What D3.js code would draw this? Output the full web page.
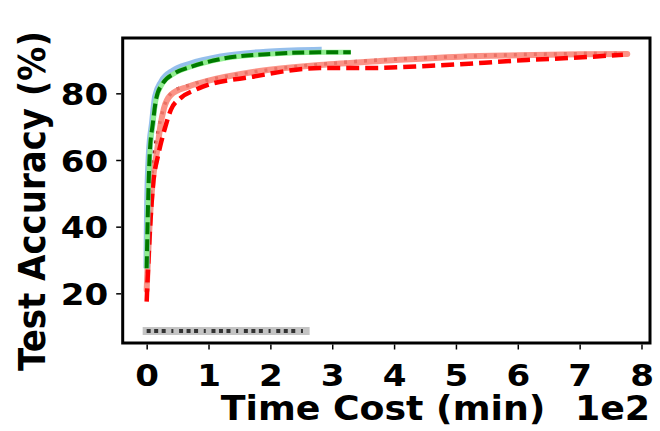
<!DOCTYPE html>
<html>
<head>
<meta charset="utf-8">
<script src="https://cdn.jsdelivr.net/npm/d3@7"></script>
<style>
  html, body { margin: 0; padding: 0; background: #fff; }
  svg { display: block; }
  text { font-family: "DejaVu Sans", sans-serif; font-weight: bold; fill: #000; }
</style>
</head>
<body>
<svg id="chart" width="660" height="431"></svg>
<script>
// Time in minutes, accuracy in percent.
const blueTime  = [0, 1, 4, 9, 14, 24, 43, 70, 120, 200, 283];
const blueAcc   = [27.5, 45, 62, 71, 79, 83.5, 86.8, 88.8, 91, 92.5, 93];

const greenTime = [0, 2, 5, 10, 15.5, 26, 45, 72, 120, 200, 280, 330];
const greenAcc  = [27.5, 45, 62, 71, 78.5, 83, 86, 88, 90.3, 91.8, 92.3, 92.3];

const salmonTime = [0, 2, 5, 10, 17, 22, 28, 39, 67, 100, 172, 280, 377, 507, 600, 700, 777];
const salmonAcc  = [21, 30, 42, 54, 63, 70, 75.5, 79.5, 82, 83.8, 86.4, 88.5, 89.7, 91, 91.4, 91.7, 91.8];

const redTime = [0, 5, 10, 18, 23, 31, 39, 55, 78, 91, 172, 280, 360, 453, 615, 722, 770];
const redAcc  = [17.5, 38, 52, 61, 65, 70.5, 75, 78.6, 81, 82, 85, 87.6, 87.6, 88.2, 90, 91, 91.6];

const dotTime = [0, 5, 10, 20, 30, 43, 70, 120, 195, 300, 400, 500, 600, 700, 770];
const dotAcc  = [23, 45, 58, 70, 77, 80.5, 82.5, 84.8, 87, 89, 90.2, 91, 91.6, 91.9, 92];

const grayTime = [0, 257];
const grayAcc  = [8.7, 8.7];

const xTicks = [0, 100, 200, 300, 400, 500, 600, 700, 800];
const yTicks = [20, 40, 60, 80];

const xLabel = "Time Cost (min)";
const xOffsetLabel = "1e2";
const yLabel = "Test Accuracy (%)";

const svg = d3.select("#chart");
const frame = { left: 122.7, right: 650, top: 38, bottom: 343 };
const stretch = 1.1;

const x = d3.scaleLinear().domain([-38.75, 813.75]).range([frame.left, frame.right]);
const y = d3.scaleLinear().domain([5.1, 96.6]).range([frame.bottom, frame.top]);

const pairs = (xs, ys) => xs.map((t, i) => [t, ys[i]]);
const line = d3.line().x(d => x(d[0])).y(d => y(d[1])).curve(d3.curveMonotoneX);

const plot = svg.append("g");

function drawSeries(xs, ys, style) {
  const p = plot.append("path")
    .datum(pairs(xs, ys))
    .attr("d", line)
    .attr("fill", "none")
    .attr("stroke", style.color)
    .attr("stroke-width", style.width)
    .attr("stroke-linecap", style.cap || "butt")
    .attr("stroke-linejoin", "round");
  if (style.dash) p.attr("stroke-dasharray", style.dash);
  if (style.opacity) p.attr("stroke-opacity", style.opacity);
  return p;
}

// Bottom flat series: gray band with dark dash-dot pattern
drawSeries(grayTime, grayAcc, { color: "#c4c4c4", width: 8, cap: "square" });
drawSeries(grayTime, grayAcc, { color: "#333", width: 4, dash: "4,3.5,4,3.5,4,5.7,2,5.7" });

// Slower group
drawSeries(dotTime, dotAcc, { color: "#8b1f1f", width: 3.5, dash: "3,7" });
drawSeries(salmonTime, salmonAcc, { color: "#fa8072", width: 6, cap: "round", opacity: 0.85 });
drawSeries(redTime, redAcc, { color: "#ff0000", width: 4.5, dash: "13,6" });

// Faster group
drawSeries(blueTime, blueAcc, { color: "#4f95e0", width: 6.5, opacity: 0.6 });
drawSeries(greenTime, greenAcc, { color: "#90ee90", width: 5 });
drawSeries(greenTime, greenAcc, { color: "#007a00", width: 4, dash: "12,5" });

// Frame
svg.append("rect")
  .attr("x", frame.left).attr("y", frame.top)
  .attr("width", frame.right - frame.left).attr("height", frame.bottom - frame.top)
  .attr("fill", "none").attr("stroke", "#000").attr("stroke-width", 3);

// Axes
const xAxis = d3.axisBottom(x).tickValues(xTicks).tickSize(5).tickPadding(6)
  .tickFormat(d => d3.format("d")(d / 100));
const yAxis = d3.axisLeft(y).tickValues(yTicks).tickSize(5).tickPadding(7)
  .tickFormat(d3.format("d"));

const gx = svg.append("g").attr("transform", `translate(0,${frame.bottom + 1.5})`).call(xAxis);
const gy = svg.append("g").attr("transform", `translate(${frame.left - 1.5},0)`).call(yAxis);
[gx, gy].forEach(g => {
  g.select(".domain").remove();
  g.selectAll(".tick line").attr("stroke", "#000").attr("stroke-width", 1.5);
  g.selectAll(".tick text").attr("font-size", 31).attr("font-family", "DejaVu Sans").attr("font-weight", "bold");
});
gx.selectAll(".tick text")
  .attr("dy", null).attr("y", 0)
  .attr("transform", `translate(0,41) scale(${stretch},1)`);
gy.selectAll(".tick text")
  .attr("dy", "0.36em").attr("x", 0)
  .attr("transform", `translate(-13,0) scale(${stretch},1)`);

// Axis titles
svg.append("g").attr("transform", `translate(383,420) scale(${stretch},1)`)
  .append("text").attr("text-anchor", "middle").attr("font-size", 33).text(xLabel);
svg.append("g").attr("transform", `translate(650,420) scale(${stretch},1)`)
  .append("text").attr("text-anchor", "end").attr("font-size", 33).text(xOffsetLabel);
svg.append("g").attr("transform", `translate(45,201) scale(${stretch},1) rotate(-90)`)
  .append("text").attr("text-anchor", "middle").attr("font-size", 34).text(yLabel);
</script>
</body>
</html>
